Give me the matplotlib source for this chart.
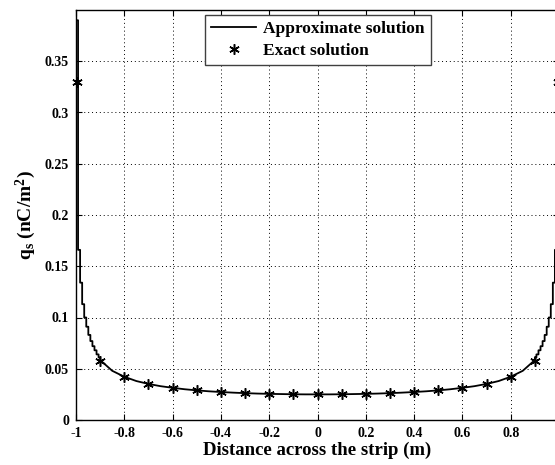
import matplotlib
matplotlib.use('Agg')
import matplotlib.pyplot as plt

plt.rcParams['font.family'] = ['Liberation Serif', 'DejaVu Serif']
plt.rcParams['font.weight'] = 'bold'
plt.rcParams['mathtext.fontset'] = 'custom'
plt.rcParams['mathtext.rm'] = 'Liberation Serif:bold'
plt.rcParams['mathtext.bf'] = 'Liberation Serif:bold'
plt.rcParams['mathtext.it'] = 'Liberation Serif:bold'

# staircase near the left edge (segment edges and values)
left_edges = [-1.0, -0.9915, -0.983, -0.9745, -0.966, -0.9575, -0.949,
              -0.9405, -0.932, -0.9235, -0.915, -0.9065, -0.9]
left_vals = [0.390, 0.166, 0.134, 0.113, 0.100, 0.091, 0.083,
             0.077, 0.072, 0.068, 0.064, 0.061]

# smooth middle part
mid_x = [-0.9, -0.85, -0.8, -0.75, -0.7, -0.65, -0.6, -0.55, -0.5, -0.45,
         -0.4, -0.35, -0.3, -0.25, -0.2, -0.15, -0.1, -0.05, 0.0,
         0.05, 0.1, 0.15, 0.2, 0.25, 0.3, 0.35, 0.4, 0.45, 0.5,
         0.55, 0.6, 0.65, 0.7, 0.75, 0.8, 0.85, 0.9]
mid_q = [0.0585, 0.0480, 0.0422, 0.0380, 0.0352, 0.0330, 0.0314, 0.0300, 0.0289, 0.0280,
         0.0273, 0.0267, 0.0262, 0.0258, 0.0255, 0.0253, 0.0251, 0.0250, 0.0250,
         0.0250, 0.0251, 0.0253, 0.0255, 0.0258, 0.0262, 0.0267, 0.0273, 0.0280, 0.0289,
         0.0300, 0.0314, 0.0330, 0.0352, 0.0380, 0.0422, 0.0480, 0.0585]

# staircase near the right edge
right_edges = [0.9, 0.9065, 0.915, 0.9235, 0.932, 0.9405, 0.949,
               0.9575, 0.966, 0.9745, 0.983, 0.9915, 1.0]
right_vals = [0.061, 0.064, 0.068, 0.072, 0.077, 0.083,
              0.091, 0.100, 0.113, 0.134, 0.166, 0.390]

# exact solution points
exact_x = [-0.997, -0.9, -0.8, -0.7, -0.6, -0.5, -0.4, -0.3, -0.2, -0.1, 0.0,
           0.1, 0.2, 0.3, 0.4, 0.5, 0.6, 0.7, 0.8, 0.9, 0.997]
exact_q = [0.330, 0.058, 0.042, 0.035, 0.031, 0.029, 0.0275, 0.026, 0.0255, 0.025, 0.025,
           0.025, 0.0255, 0.026, 0.0275, 0.029, 0.031, 0.035, 0.042, 0.058, 0.330]

xticks = [-1, -0.8, -0.6, -0.4, -0.2, 0, 0.2, 0.4, 0.6, 0.8]
xtick_labels = ['-1', '-0.8', '-0.6', '-0.4', '-0.2', '0', '0.2', '0.4', '0.6', '0.8']
yticks = [0, 0.05, 0.1, 0.15, 0.2, 0.25, 0.3, 0.35]
ytick_labels = ['0', '0.05', '0.1', '0.15', '0.2', '0.25', '0.3', '0.35']


def stairs(edges, vals):
    xs, ys = [], []
    for i in range(len(vals)):
        xs += [edges[i], edges[i + 1]]
        ys += [vals[i], vals[i]]
    return xs, ys


lx, ly = stairs(left_edges, left_vals)
rx, ry = stairs(right_edges, right_vals)
line_x = lx + mid_x + rx
line_q = ly + mid_q + ry

fig = plt.figure(figsize=(5.55, 4.65), dpi=100)
ax = fig.add_axes([76 / 555, 45 / 465, 483 / 555, 410 / 465])

ax.plot(line_x, line_q, color='black', lw=1.3, label='Approximate solution', zorder=3)
ax.plot(exact_x, exact_q, linestyle='none', marker=(6, 2, 0), markersize=7.5,
        markeredgewidth=1.1, color='black', label='Exact solution', zorder=4,
        clip_on=False)

ax.set_xlim(-1, 1)
ax.set_ylim(0, 0.4)
ax.set_xticks(xticks)
ax.set_xticklabels(xtick_labels)
ax.set_yticks(yticks)
ax.set_yticklabels(ytick_labels)
ax.tick_params(direction='in', top=True, right=True, length=4, labelsize=10, pad=5)
ax.grid(True, linestyle=(0, (1, 3)), color='black', lw=0.7)
for s in ax.spines.values():
    s.set_linewidth(1.0)

ax.set_xlabel('Distance across the strip (m)', fontsize=13.5, fontweight='bold', labelpad=1)
ax.set_ylabel(r'q$_\mathregular{s}$ (nC/m$^\mathregular{2}$)', fontsize=14,
              fontweight='bold', labelpad=5)

leg = ax.legend(loc='upper center', bbox_to_anchor=(0.501, 0.988), fontsize=12.5,
                frameon=True, fancybox=False, edgecolor='0.25', framealpha=1,
                borderaxespad=0, handlelength=2.6, borderpad=0.35, labelspacing=0.35,
                handletextpad=0.4)
leg.get_frame().set_linewidth(1.0)

fig.savefig('out.png', dpi=100)
